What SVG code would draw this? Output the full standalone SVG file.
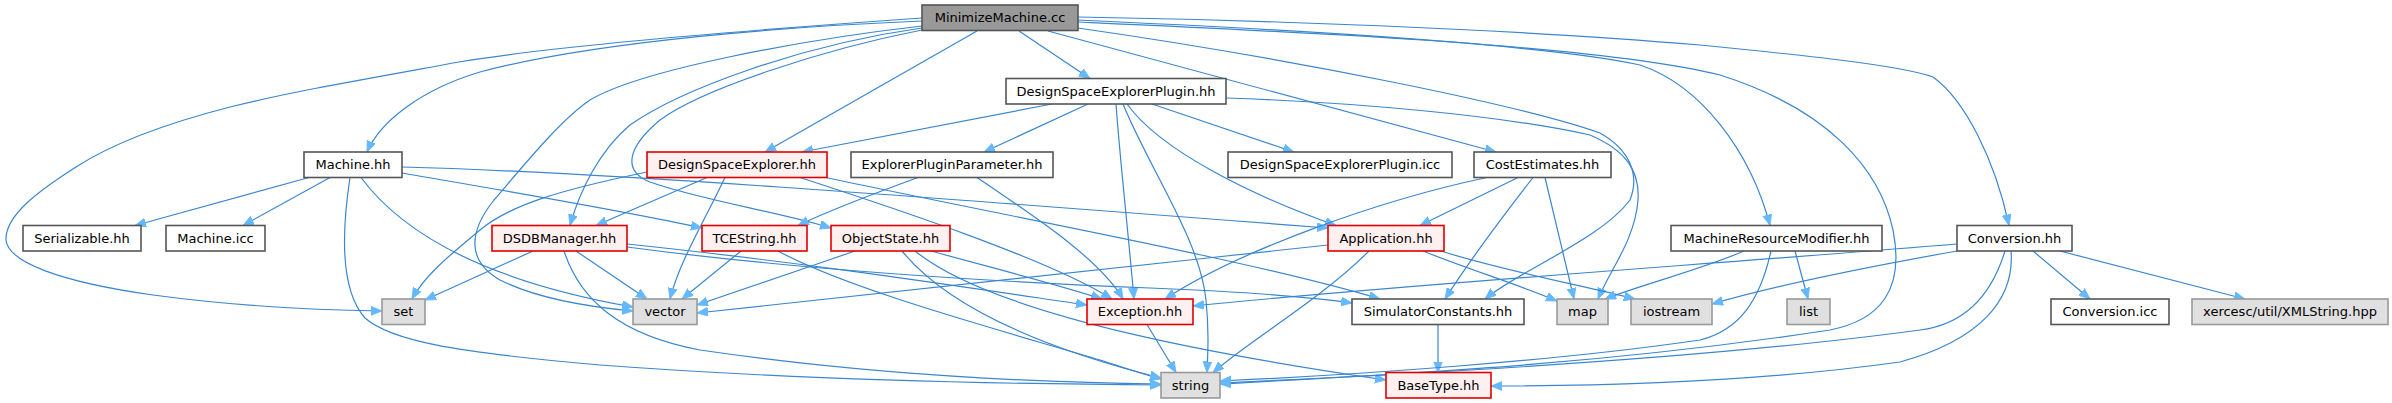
<svg xmlns="http://www.w3.org/2000/svg" width="2392" height="403" viewBox="0 0 2392 403">
<style>
.e{fill:none;stroke:#3a86cf;stroke-width:1.2}
.n rect{stroke-width:1.6}
.w rect{fill:#ffffff;stroke:#555555}
.r rect{fill:#fff0f0;stroke:#e00000}
.s rect{fill:#e0e0e0;stroke:#999999}
.root rect{fill:#999999;stroke:#555555}
text{font-family:"DejaVu Sans","Liberation Sans",sans-serif;font-size:13px;fill:#000;text-anchor:middle}
</style>
<defs>
<marker id="a" markerWidth="12" markerHeight="10" refX="11" refY="4.5" orient="auto" markerUnits="userSpaceOnUse"><path d="M0,0 L11,4.5 L0,9 z" fill="#63b8ff" stroke="#63b8ff" stroke-width="0.8"/></marker>
</defs>
<g id="edges" marker-end="url(#a)">
<path class="e" d="M1019,31 L1090,78.5"/>
<path class="e" d="M977,31 L765,152"/>
<path class="e" d="M1048,31 L1496,152"/>
<path class="e" d="M922,21 C800,26 600,40 480,72 C420,90 380,122 367,152"/>
<path class="e" d="M922,18 C750,30 560,45 459,62 C360,80 290,92 230,107 C160,125 110,145 76,167 C40,190 5,215 6,240 C8,262 60,282 153,295 C220,304 300,310 382,311"/>
<path class="e" d="M922,26 C800,40 640,70 590,100 C560,120 520,170 494,200 C470,230 465,260 500,280 C540,300 600,308 633,311"/>
<path class="e" d="M922,28 C800,45 680,90 630,125 C600,150 580,190 570,225.5"/>
<path class="e" d="M922,30 C820,50 700,90 660,120 C630,145 620,170 650,182 C700,200 780,212 831,228"/>
<path class="e" d="M1078,17 C1250,20 1500,28 1700,45 C1800,55 1900,65 1933,77 C1965,100 1995,160 2009,225.5"/>
<path class="e" d="M1078,20 C1300,30 1550,45 1640,65 C1700,85 1750,150 1770,225.5"/>
<path class="e" d="M1078,22 C1300,32 1600,45 1720,75 C1830,110 1880,170 1893,230 C1905,290 1880,320 1830,330 C1600,365 1400,374 1220,384"/>
<path class="e" d="M1078,28 C1300,60 1520,105 1600,133 C1630,150 1640,175 1630,200 C1600,240 1520,270 1485,299"/>
<path class="e" d="M1226,98 C1350,102 1500,115 1590,135 C1625,150 1640,170 1638,200 C1635,240 1610,270 1598,299"/>
<path class="e" d="M1052,104 L802,152"/>
<path class="e" d="M1088,104 L984,152"/>
<path class="e" d="M1152,104 L1294,152"/>
<path class="e" d="M1116,104 C1120,160 1128,230 1134,299"/>
<path class="e" d="M1123,104 C1150,170 1200,240 1206,300 C1209,330 1208,350 1207,372.5"/>
<path class="e" d="M1127,104 C1160,150 1250,195 1336,225.5"/>
<path class="e" d="M647,172 C560,190 510,205 480,230 C450,255 425,275 412,299"/>
<path class="e" d="M707,177.5 L596,225.5"/>
<path class="e" d="M725,177.5 C705,220 680,260 670,299"/>
<path class="e" d="M800,177.5 C900,210 1050,260 1112,299"/>
<path class="e" d="M826,177.5 C1000,215 1250,260 1380,299"/>
<path class="e" d="M309,177.5 L135,225.5"/>
<path class="e" d="M330,177.5 L243,225.5"/>
<path class="e" d="M350,177.5 C342,230 340,290 365,318 C390,340 450,352 600,365 C800,380 1000,384 1161,385"/>
<path class="e" d="M361,177.5 C400,230 480,280 633,307"/>
<path class="e" d="M402,173 C500,190 620,210 702,228"/>
<path class="e" d="M402,167 C600,172 900,195 1328,228"/>
<path class="e" d="M533,251 L425,300"/>
<path class="e" d="M576,251 L647,299"/>
<path class="e" d="M564,251 C580,300 620,335 700,350 C850,372 1000,382 1161,384"/>
<path class="e" d="M627,244 C800,262 950,285 1087,305"/>
<path class="e" d="M627,247 C800,270 1000,282 1150,288 C1250,292 1310,297 1352,303"/>
<path class="e" d="M741,251 L682,299"/>
<path class="e" d="M778,251 C850,290 1000,330 1100,360 C1120,366 1135,372 1161,379"/>
<path class="e" d="M855,251 C800,270 740,290 697,305"/>
<path class="e" d="M902,251 C950,310 1050,350 1161,378"/>
<path class="e" d="M915,251 C1000,320 1250,360 1386,380"/>
<path class="e" d="M931,251 C1000,270 1060,285 1102,299"/>
<path class="e" d="M918,177.5 C870,195 830,210 798,225.5"/>
<path class="e" d="M977,177.5 C1040,220 1100,260 1123,299"/>
<path class="e" d="M1369,251 C1320,300 1250,340 1213,372.5"/>
<path class="e" d="M1328,245 C1100,270 850,295 697,313"/>
<path class="e" d="M1423,251 C1470,270 1520,285 1557,301"/>
<path class="e" d="M1441,251 C1500,270 1580,285 1635,299"/>
<path class="e" d="M1518,177.5 L1420,225.5"/>
<path class="e" d="M1487,177.5 C1380,200 1240,250 1165,299"/>
<path class="e" d="M1533,177.5 C1500,220 1470,260 1445,299"/>
<path class="e" d="M1545,177.5 L1574,299"/>
<path class="e" d="M1438,324.5 L1438,372.5"/>
<path class="e" d="M1147,324.5 L1176,372.5"/>
<path class="e" d="M1744,251 C1700,270 1640,285 1605,299"/>
<path class="e" d="M1795,251 L1808,299"/>
<path class="e" d="M1771,251 C1760,300 1740,330 1700,340 C1550,362 1350,375 1220,381"/>
<path class="e" d="M2033,251 L2090,299"/>
<path class="e" d="M2060,251 L2245,299"/>
<path class="e" d="M1957,251 C1850,270 1760,290 1712,304"/>
<path class="e" d="M1957,244 C1700,265 1400,285 1193,306"/>
<path class="e" d="M2005,251 C1990,300 1960,325 1920,330 C1700,360 1400,375 1220,383"/>
<path class="e" d="M2011,251 C2015,300 1980,340 1900,362 C1750,383 1600,386 1491,386"/>
</g>
<g id="MinimizeMachine" class="n root"><rect x="922" y="5" width="156" height="25.5"/><text x="1000" y="22.3">MinimizeMachine.cc</text></g>
<g id="DesignSpaceExplorerPlugin_hh" class="n w"><rect x="1006" y="78.5" width="220" height="25.5"/><text x="1116" y="95.8">DesignSpaceExplorerPlugin.hh</text></g>
<g id="Machine_hh" class="n w"><rect x="304" y="152" width="98" height="25.5"/><text x="353" y="169.3">Machine.hh</text></g>
<g id="DesignSpaceExplorer_hh" class="n r"><rect x="647" y="152" width="180" height="25.5"/><text x="737" y="169.3">DesignSpaceExplorer.hh</text></g>
<g id="ExplorerPluginParameter_hh" class="n w"><rect x="851" y="152" width="202" height="25.5"/><text x="952" y="169.3">ExplorerPluginParameter.hh</text></g>
<g id="DesignSpaceExplorerPlugin_icc" class="n w"><rect x="1228" y="152" width="224" height="25.5"/><text x="1340" y="169.3">DesignSpaceExplorerPlugin.icc</text></g>
<g id="CostEstimates_hh" class="n w"><rect x="1474" y="152" width="137" height="25.5"/><text x="1542.5" y="169.3">CostEstimates.hh</text></g>
<g id="Serializable_hh" class="n w"><rect x="23" y="225.5" width="118" height="25.5"/><text x="82" y="242.8">Serializable.hh</text></g>
<g id="Machine_icc" class="n w"><rect x="166" y="225.5" width="99" height="25.5"/><text x="215.5" y="242.8">Machine.icc</text></g>
<g id="DSDBManager_hh" class="n r"><rect x="492" y="225.5" width="135" height="25.5"/><text x="559.5" y="242.8">DSDBManager.hh</text></g>
<g id="TCEString_hh" class="n r"><rect x="702" y="225.5" width="105" height="25.5"/><text x="754.5" y="242.8">TCEString.hh</text></g>
<g id="ObjectState_hh" class="n r"><rect x="831" y="225.5" width="119" height="25.5"/><text x="890.5" y="242.8">ObjectState.hh</text></g>
<g id="Application_hh" class="n r"><rect x="1328" y="225.5" width="116" height="25.5"/><text x="1386" y="242.8">Application.hh</text></g>
<g id="MachineResourceModifier_hh" class="n w"><rect x="1671" y="225.5" width="211" height="25.5"/><text x="1776.5" y="242.8">MachineResourceModifier.hh</text></g>
<g id="Conversion_hh" class="n w"><rect x="1957" y="225.5" width="115" height="25.5"/><text x="2014.5" y="242.8">Conversion.hh</text></g>
<g id="set" class="n s"><rect x="382" y="299" width="43" height="25.5"/><text x="403.5" y="316.3">set</text></g>
<g id="vector" class="n s"><rect x="633" y="299" width="64" height="25.5"/><text x="665" y="316.3">vector</text></g>
<g id="Exception_hh" class="n r"><rect x="1087" y="299" width="106" height="25.5"/><text x="1140" y="316.3">Exception.hh</text></g>
<g id="SimulatorConstants_hh" class="n w"><rect x="1352" y="299" width="172" height="25.5"/><text x="1438" y="316.3">SimulatorConstants.hh</text></g>
<g id="map" class="n s"><rect x="1557" y="299" width="51" height="25.5"/><text x="1582.5" y="316.3">map</text></g>
<g id="iostream" class="n s"><rect x="1631" y="299" width="81" height="25.5"/><text x="1671.5" y="316.3">iostream</text></g>
<g id="list" class="n s"><rect x="1787" y="299" width="43" height="25.5"/><text x="1808.5" y="316.3">list</text></g>
<g id="Conversion_icc" class="n w"><rect x="2051" y="299" width="118" height="25.5"/><text x="2110" y="316.3">Conversion.icc</text></g>
<g id="XMLString_hpp" class="n s"><rect x="2192" y="299" width="196" height="25.5"/><text x="2290" y="316.3">xercesc/util/XMLString.hpp</text></g>
<g id="string" class="n s"><rect x="1161" y="372.5" width="59" height="25.5"/><text x="1190.5" y="389.8">string</text></g>
<g id="BaseType_hh" class="n r"><rect x="1386" y="372.5" width="105" height="25.5"/><text x="1438.5" y="389.8">BaseType.hh</text></g>
</svg>
